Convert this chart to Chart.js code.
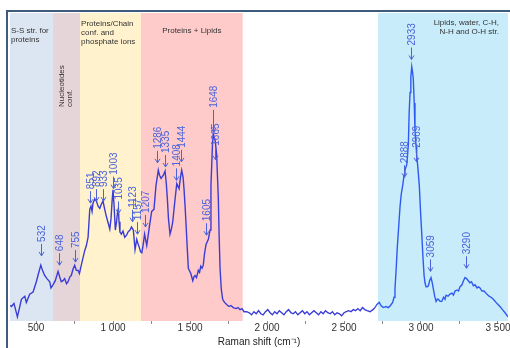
<!DOCTYPE html>
<html>
<head>
<meta charset="utf-8">
<script src="https://cdn.jsdelivr.net/npm/chart.js@4"></script>
<style>
  html, body { margin: 0; padding: 0; background: #fff; }
  #wrap { width: 510px; height: 348px; position: relative; }
</style>
</head>
<body>
<div id="wrap"><canvas id="raman"></canvas></div>
<script>
// Spectrum (Raman shift in cm-1, intensity in arbitrary units)
const WAVENUMBER = [
  331, 340, 357, 379, 390, 405, 427, 437, 459, 481, 502, 516, 531, 542, 556, 571, 589, 597, 610, 625,
  643, 653, 664, 675, 686, 698, 708, 721, 729, 740, 751, 762, 773, 782, 794, 805, 816, 827, 838, 849,
  857, 864, 870, 881, 892, 903, 914, 924, 935, 946, 957, 968, 979, 987, 994, 1000, 1007, 1015, 1023, 1029,
  1035, 1039, 1045, 1054, 1065, 1076, 1088, 1097, 1110, 1120, 1132, 1143, 1154, 1162, 1171, 1179, 1187, 1195, 1205, 1219,
  1236, 1251, 1266, 1279, 1294, 1302, 1312, 1327, 1338, 1346, 1353, 1360, 1370, 1379, 1388, 1396, 1403, 1414, 1429, 1438,
  1446, 1455, 1461, 1468, 1474, 1482, 1489, 1505, 1518, 1526, 1533, 1542, 1554, 1562, 1570, 1578, 1586, 1595, 1604, 1619,
  1630, 1636, 1641, 1646, 1651, 1658, 1664, 1673, 1678, 1684, 1689, 1695, 1703, 1712, 1724, 1738, 1753, 1766, 1781, 1799,
  1812, 1825, 1838, 1851, 1868, 1885, 1900, 1915, 1930, 1945, 1960, 1975, 1990, 2005, 2020, 2035, 2050, 2065, 2080, 2095,
  2110, 2125, 2140, 2155, 2170, 2185, 2200, 2215, 2230, 2245, 2260, 2275, 2290, 2305, 2320, 2335, 2350, 2365, 2380, 2395,
  2410, 2425, 2440, 2455, 2470, 2485, 2500, 2515, 2530, 2545, 2560, 2575, 2590, 2605, 2620, 2635, 2650, 2669, 2688, 2701,
  2714, 2729, 2740, 2755, 2773, 2788, 2802, 2816, 2825, 2831, 2839, 2846, 2855, 2864, 2872, 2881, 2890, 2896, 2907, 2912,
  2918, 2923, 2929, 2934, 2940, 2945, 2950, 2956, 2961, 2968, 2972, 2981, 2989, 2997, 3005, 3013, 3020, 3026, 3033, 3040,
  3048, 3056, 3065, 3073, 3080, 3089, 3098, 3106, 3113, 3124, 3135, 3147, 3156, 3163, 3176, 3188, 3201, 3211, 3221, 3234,
  3244, 3253, 3266, 3276, 3286, 3296, 3307, 3318, 3328, 3340, 3351, 3364, 3374, 3383, 3396, 3409, 3427, 3442, 3455, 3470,
  3487, 3500, 3513, 3529, 3546, 3565
];
const INTENSITY = [
  15, 14, 17, 4, 11, 21, 24, 18, 26, 28, 38, 46, 54, 49, 44, 41, 38, 32, 35, 39,
  48, 43, 38, 39, 41, 36, 38, 43, 44, 50, 54, 49, 49, 46, 54, 61, 68, 73, 81, 108,
  111, 106, 114, 118, 116, 111, 109, 113, 116, 108, 101, 95, 89, 99, 116, 127, 111, 88, 96, 105,
  109, 96, 86, 84, 87, 81, 83, 86, 88, 91, 88, 69, 79, 75, 71, 67, 66, 73, 84, 73,
  91, 106, 108, 131, 146, 141, 138, 141, 145, 133, 118, 99, 84, 89, 96, 108, 118, 133, 128, 139,
  146, 139, 128, 111, 94, 71, 51, 46, 39, 43, 44, 42, 49, 47, 53, 51, 54, 66, 74, 79,
  88, 131, 151, 171, 181, 177, 174, 161, 141, 118, 83, 51, 31, 21, 18, 16, 14, 15, 13, 12,
  13, 11, 12, 9, 9, 8, 6, 9, 7, 10, 7, 6, 9, 11, 8, 6, 9, 7, 10, 8,
  6, 9, 11, 8, 7, 9, 6, 8, 10, 7, 9, 6, 8, 10, 8, 6, 9, 7, 10, 8,
  7, 9, 6, 8, 7, 5, 8, 9, 10, 9, 11, 10, 12, 10, 13, 11, 10, 9, 11, 13,
  16, 18, 15, 13, 14, 13, 15, 18, 23, 31, 51, 71, 91, 111, 123, 131, 141, 146, 151, 159,
  171, 201, 221, 236, 246, 241, 234, 211, 184, 169, 161, 146, 131, 106, 84, 61, 44, 37, 33, 33,
  34, 39, 42, 37, 31, 24, 19, 21, 21, 19, 19, 23, 21, 25, 24, 26, 27, 25, 29, 30,
  29, 33, 35, 39, 42, 41, 39, 37, 38, 34, 35, 32, 33, 32, 29, 29, 26, 24, 23, 21,
  18, 16, 14, 11, 8, 4
];

// Axis
const X_MIN = 331;
const X_MAX = 3565;
const TICK_VALUES = [500, 750, 1000, 1250, 1500, 1750, 2000, 2250, 2500, 2750, 3000, 3250, 3500];
const TICK_LABELS = ['500', '', '1 000', '', '1 500', '', '2 000', '', '2 500', '', '3 000', '', '3 500'];

// Assignment regions
const BAND_FROM = [331, 610, 786, 1182, 2721];
const BAND_TO = [610, 786, 1182, 1842, 3565];
const BAND_TEXT = [
  ['S-S str. for', 'proteins'],
  ['Nucleotides', 'conf.'],
  ['Proteins/Chain', 'conf. and', 'phosphate ions'],
  ['Proteins + Lipids'],
  ['Lipids, water, C-H,', 'N-H and O-H str.']
];

// Peak annotations: wavenumber and intensity the arrow points at
const PEAKS = [532, 648, 755, 851, 892, 933, 1003, 1035, 1123, 1157, 1207, 1286, 1335, 1408, 1444, 1605, 1648, 1665, 2888, 2933, 2969, 3059, 3290];
const PEAK_LEVEL = [63, 54, 57, 114, 116, 116, 128, 104, 96, 84, 91, 153, 149, 136, 154, 83, 183, 156, 139, 253, 154, 48, 51];

const BAND_COLORS = ['#dce6f2', '#e6d5d8', '#fff2cc', '#ffcaca', '#c8ecfa'];
const LINE_LEFT = '#3a3cd6';
const LINE_RIGHT = '#2f5af2';
const PEAK_COLOR = '#4a63dc';
const FONT = '"Liberation Sans", Arial, sans-serif';

const bandsPlugin = {
  id: 'bands',
  beforeDatasetsDraw(chart) {
    const { ctx, chartArea: a, scales: { x } } = chart;
    ctx.save();
    BAND_FROM.forEach((from, i) => {
      const x0 = x.getPixelForValue(from);
      const x1 = x.getPixelForValue(BAND_TO[i]);
      ctx.fillStyle = BAND_COLORS[i];
      ctx.fillRect(x0, a.top - 1, x1 - x0, a.bottom - a.top + 1);
    });

    // region captions
    ctx.fillStyle = '#333';
    ctx.font = '8px ' + FONT;
    ctx.textBaseline = 'alphabetic';
    const left = i => x.getPixelForValue(BAND_FROM[i]);
    const right = i => x.getPixelForValue(BAND_TO[i]);

    ctx.textAlign = 'left';
    BAND_TEXT[0].forEach((t, k) => ctx.fillText(t, left(0) + 1, a.top + 19 + k * 9));
    BAND_TEXT[2].forEach((t, k) => ctx.fillText(t, left(2) + 1, a.top + 12 + k * 9));

    ctx.textAlign = 'center';
    ctx.fillText(BAND_TEXT[3][0], (left(3) + right(3)) / 2, a.top + 19);

    ctx.textAlign = 'right';
    BAND_TEXT[4].forEach((t, k) => ctx.fillText(t, right(4) - 9, a.top + 11 + k * 9));

    ctx.save();
    ctx.translate(left(1) + 11, a.top + 93);
    ctx.rotate(-Math.PI / 2);
    ctx.textAlign = 'left';
    BAND_TEXT[1].forEach((t, k) => ctx.fillText(t, 0, k * 8));
    ctx.restore();
    ctx.restore();
  },
  afterDatasetsDraw(chart) {
    const { ctx, scales: { x, y } } = chart;
    ctx.save();
    ctx.strokeStyle = PEAK_COLOR;
    ctx.fillStyle = PEAK_COLOR;
    ctx.lineWidth = 1;
    ctx.font = '10px ' + FONT;
    PEAKS.forEach((p, i) => {
      const px = Math.round(x.getPixelForValue(p)) + 0.5;
      const tip = y.getPixelForValue(PEAK_LEVEL[i]);
      const len = p === 1648 ? 22 : 12;
      ctx.beginPath();
      ctx.moveTo(px, tip - len);
      ctx.lineTo(px, tip);
      ctx.moveTo(px - 2.5, tip - 4);
      ctx.lineTo(px, tip);
      ctx.lineTo(px + 2.5, tip - 4);
      ctx.stroke();
      ctx.save();
      ctx.translate(px + 0.5, tip - len - 2);
      ctx.rotate(-Math.PI / 2);
      ctx.textAlign = 'left';
      ctx.textBaseline = 'middle';
      ctx.fillText(String(p), 0, 0);
      ctx.restore();
    });
    ctx.restore();
  },
  afterDraw(chart) {
    // chart frame (top and left edge visible in the picture)
    const { ctx } = chart;
    ctx.save();
    ctx.strokeStyle = '#3e5a7c';
    ctx.lineWidth = 2;
    ctx.beginPath();
    ctx.moveTo(7, 348);
    ctx.lineTo(7, 11);
    ctx.lineTo(510, 11);
    ctx.stroke();
    ctx.restore();
  }
};

const points = WAVENUMBER.map((w, i) => ({ x: w, y: INTENSITY[i] }));

new Chart(document.getElementById('raman'), {
  type: 'line',
  data: {
    datasets: [{
      data: points,
      borderColor: LINE_LEFT,
      borderWidth: 1.4,
      pointRadius: 0,
      tension: 0,
      segment: {
        borderColor: c => (c.p0.parsed.x >= 2700 ? LINE_RIGHT : LINE_LEFT)
      }
    }]
  },
  options: {
    responsive: true,
    maintainAspectRatio: false,
    animation: false,
    layout: { padding: { left: 10, right: 2, top: 14, bottom: 0 } },
    plugins: {
      legend: { display: false },
      tooltip: { enabled: false }
    },
    scales: {
      x: {
        type: 'linear',
        min: X_MIN,
        max: X_MAX,
        afterBuildTicks: axis => {
          axis.ticks = TICK_VALUES.map(v => ({ value: v }));
        },
        afterFit: axis => {
          // let the last label hang into the right margin, as in the original
          axis.paddingLeft = 0;
          axis.paddingRight = 0;
        },
        grid: {
          drawOnChartArea: false,
          drawTicks: true,
          tickLength: 3,
          color: '#8a8a8a'
        },
        border: { display: false },
        ticks: {
          padding: -2,
          maxRotation: 0,
          autoSkip: false,
          color: '#333',
          font: { family: FONT, size: 10 },
          callback: (v, i) => TICK_LABELS[i]
        },
        title: {
          display: true,
          text: 'Raman shift (cm⁻¹)',
          color: '#222',
          font: { family: FONT, size: 10 },
          padding: { top: 4, bottom: 0 }
        }
      },
      y: {
        display: false,
        min: 0,
        max: 297
      }
    }
  },
  plugins: [bandsPlugin]
});
</script>
</body>
</html>
